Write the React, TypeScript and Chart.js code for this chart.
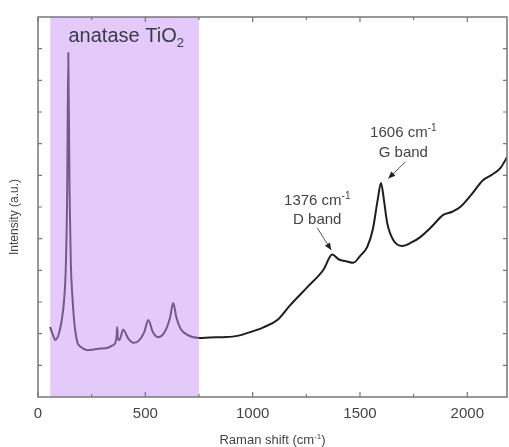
import React, { useEffect, useRef } from "react";
import { Chart, registerables } from "chart.js";

Chart.register(...registerables);

// Raman spectrum (cm^-1 vs. arbitrary intensity units)
const ramanShift = [
  57, 70, 81, 95, 110, 122, 130, 136, 141, 147, 153, 160, 170, 183, 200, 230, 260, 290, 323, 345,
  360, 366, 369, 372, 379, 397, 420, 444, 470, 495, 514, 535, 560, 590, 615, 630, 645, 665, 696,
  752, 800, 863, 930, 989, 1050, 1115, 1175, 1255, 1329, 1371, 1400, 1440, 1469, 1500, 1534, 1560,
  1582, 1598, 1612, 1627, 1655, 1697, 1740, 1781, 1830, 1888, 1930, 1967, 2020, 2074, 2110, 2154,
  2186,
];
const intensity = [
  2.21, 1.95, 1.8, 1.95, 2.4, 3.1, 4.2, 6.5, 10.86, 6.5, 4.2, 3.2, 2.3, 1.74, 1.58, 1.48, 1.5,
  1.53, 1.55, 1.62, 1.71, 1.9, 2.21, 1.85, 1.8, 2.12, 1.85, 1.71, 1.78, 2.05, 2.43, 2.05, 1.89,
  2.05, 2.5, 2.97, 2.5, 2.15, 1.96, 1.86, 1.88, 1.89, 1.93, 2.05, 2.2, 2.43, 2.9, 3.47, 4.01, 4.5,
  4.35, 4.28, 4.24, 4.45, 4.74, 5.3, 6.2, 6.76, 6.2, 5.49, 4.96, 4.77, 4.88, 5.05, 5.35, 5.75,
  5.85, 6.0, 6.4, 6.85, 7.0, 7.23, 7.58,
];

const xMin = 0;
const xMax = 2185;
const yMin = 0;
const yMax = 12;
const xTickValues = [0, 500, 1000, 1500, 2000];
const xMinorTickValues = [250, 750, 1250, 1750];
const yTickValues = [1, 2, 3, 4, 5, 6, 7, 8, 9, 10, 11];
const shadedRange = [57, 750];

const xTitle = "Raman shift (cm";
const yTitle = "Intensity (a.u.)";
const regionLabel = "anatase TiO";
const gBandLabel = ["1606 cm", "G band"];
const dBandLabel = ["1376 cm", "D band"];
// annotation anchors in data units: [x, y]
const regionLabelAt = [142, 11.2];
const gTextAt = [1702, 8.21, 7.58];
const dTextAt = [1301, 6.06, 5.46];
const gArrow = [1711, 7.42, 1632, 6.9];
const dArrow = [1301, 5.34, 1366, 4.64];

const FONT = '"Liberation Sans", Arial, Helvetica, sans-serif';

type Part = { text: string; size: number; dy: number };

function drawParts(
  ctx: CanvasRenderingContext2D,
  parts: Part[],
  x: number,
  y: number,
  align: "left" | "center"
) {
  const widths = parts.map((p) => {
    ctx.font = `${p.size}px ${FONT}`;
    return ctx.measureText(p.text).width;
  });
  const total = widths.reduce((a, b) => a + b, 0);
  let cx = align === "center" ? x - total / 2 : x;
  ctx.textAlign = "left";
  ctx.textBaseline = "alphabetic";
  parts.forEach((p, i) => {
    ctx.font = `${p.size}px ${FONT}`;
    ctx.fillText(p.text, cx, y + p.dy);
    cx += widths[i];
  });
}

function drawArrow(ctx: CanvasRenderingContext2D, x1: number, y1: number, x2: number, y2: number) {
  ctx.save();
  ctx.strokeStyle = "#555";
  ctx.fillStyle = "#222";
  ctx.lineWidth = 1;
  ctx.beginPath();
  ctx.moveTo(x1, y1);
  ctx.lineTo(x2, y2);
  ctx.stroke();
  const ang = Math.atan2(y2 - y1, x2 - x1);
  const len = 7;
  const w = 3;
  ctx.beginPath();
  ctx.moveTo(x2, y2);
  ctx.lineTo(x2 - len * Math.cos(ang) + w * Math.sin(ang), y2 - len * Math.sin(ang) - w * Math.cos(ang));
  ctx.lineTo(x2 - len * Math.cos(ang) - w * Math.sin(ang), y2 - len * Math.sin(ang) + w * Math.cos(ang));
  ctx.closePath();
  ctx.fill();
  ctx.restore();
}

const overlayPlugin = {
  id: "overlay",
  afterDatasetsDraw(chart: any) {
    const { ctx, chartArea } = chart;
    const xs = chart.scales.x;
    const ys = chart.scales.y;
    const { left, right, top, bottom } = chartArea;
    ctx.save();

    // shaded anatase region (drawn over the curve, translucent)
    const sx1 = xs.getPixelForValue(shadedRange[0]);
    const sx2 = xs.getPixelForValue(shadedRange[1]);
    ctx.fillStyle = "rgba(200,150,245,0.5)";
    ctx.fillRect(sx1, top, sx2 - sx1, bottom - top);

    // frame
    ctx.strokeStyle = "#777";
    ctx.lineWidth = 1.5;
    ctx.strokeRect(left, top, right - left, bottom - top);

    // inward ticks
    ctx.lineWidth = 1.2;
    ctx.beginPath();
    xTickValues.forEach((v) => {
      const px = xs.getPixelForValue(v);
      ctx.moveTo(px, bottom);
      ctx.lineTo(px, bottom - 5);
      ctx.moveTo(px, top);
      ctx.lineTo(px, top + 5);
    });
    xMinorTickValues.forEach((v) => {
      const px = xs.getPixelForValue(v);
      ctx.moveTo(px, bottom);
      ctx.lineTo(px, bottom - 3);
      ctx.moveTo(px, top);
      ctx.lineTo(px, top + 3);
    });
    yTickValues.forEach((v) => {
      const py = ys.getPixelForValue(v);
      ctx.moveTo(left, py);
      ctx.lineTo(left + 4, py);
      ctx.moveTo(right, py);
      ctx.lineTo(right - 4, py);
    });
    ctx.stroke();

    // region label
    ctx.fillStyle = "#3c3a44";
    drawParts(
      ctx,
      [
        { text: regionLabel, size: 20, dy: 0 },
        { text: "2", size: 13, dy: 5 },
      ],
      xs.getPixelForValue(regionLabelAt[0]),
      ys.getPixelForValue(regionLabelAt[1]),
      "left"
    );

    // band labels
    ctx.fillStyle = "#444";
    const gx = xs.getPixelForValue(gTextAt[0]);
    drawParts(
      ctx,
      [
        { text: gBandLabel[0], size: 15, dy: 0 },
        { text: "-1", size: 10, dy: -6 },
      ],
      gx,
      ys.getPixelForValue(gTextAt[1]),
      "center"
    );
    drawParts(ctx, [{ text: gBandLabel[1], size: 15, dy: 0 }], gx, ys.getPixelForValue(gTextAt[2]), "center");
    const dx = xs.getPixelForValue(dTextAt[0]);
    drawParts(
      ctx,
      [
        { text: dBandLabel[0], size: 15, dy: 0 },
        { text: "-1", size: 10, dy: -6 },
      ],
      dx,
      ys.getPixelForValue(dTextAt[1]),
      "center"
    );
    drawParts(ctx, [{ text: dBandLabel[1], size: 15, dy: 0 }], dx, ys.getPixelForValue(dTextAt[2]), "center");

    drawArrow(
      ctx,
      xs.getPixelForValue(gArrow[0]),
      ys.getPixelForValue(gArrow[1]),
      xs.getPixelForValue(gArrow[2]),
      ys.getPixelForValue(gArrow[3])
    );
    drawArrow(
      ctx,
      xs.getPixelForValue(dArrow[0]),
      ys.getPixelForValue(dArrow[1]),
      xs.getPixelForValue(dArrow[2]),
      ys.getPixelForValue(dArrow[3])
    );

    // axis titles
    ctx.fillStyle = "#444";
    drawParts(
      ctx,
      [
        { text: xTitle, size: 13, dy: 0 },
        { text: "-1", size: 8, dy: -5 },
        { text: ")", size: 13, dy: 0 },
      ],
      (left + right) / 2,
      chart.height - 3,
      "center"
    );
    ctx.save();
    ctx.translate(18, (top + bottom) / 2 + 10);
    ctx.rotate(-Math.PI / 2);
    drawParts(ctx, [{ text: yTitle, size: 12, dy: 0 }], 0, 0, "center");
    ctx.restore();

    ctx.restore();
  },
};

export default function App() {
  const canvasRef = useRef<HTMLCanvasElement | null>(null);

  useEffect(() => {
    if (!canvasRef.current) return;
    const chart = new Chart(canvasRef.current, {
      type: "line",
      data: {
        datasets: [
          {
            data: ramanShift.map((x, i) => ({ x, y: intensity[i] })),
            borderColor: "#1e1e1e",
            borderWidth: 2,
            pointRadius: 0,
            cubicInterpolationMode: "monotone",
            fill: false,
          },
        ],
      },
      options: {
        responsive: false,
        animation: false,
        layout: { padding: { left: 38, right: 2, top: 17, bottom: 0 } },
        plugins: { legend: { display: false }, tooltip: { enabled: false } },
        scales: {
          x: {
            type: "linear",
            min: xMin,
            max: xMax,
            grid: { display: false, drawTicks: false },
            border: { display: false },
            ticks: {
              stepSize: 500,
              includeBounds: false,
              padding: 8,
              color: "#444",
              font: { size: 15, family: FONT },
              maxRotation: 0,
              callback: (v: any) => String(v),
            },
            afterBuildTicks: (scale: any) => {
              scale.ticks = xTickValues.map((v) => ({ value: v }));
            },
            afterFit: (scale: any) => {
              scale.height = 50;
            },
          },
          y: {
            type: "linear",
            min: yMin,
            max: yMax,
            display: false,
          },
        },
      },
      plugins: [overlayPlugin],
    } as any);
    return () => chart.destroy();
  }, []);

  return (
    <div style={{ position: "absolute", left: 0, top: 0, width: 509, height: 447, background: "#fff" }}>
      <canvas ref={canvasRef} width={509} height={447} style={{ display: "block" }} />
    </div>
  );
}
